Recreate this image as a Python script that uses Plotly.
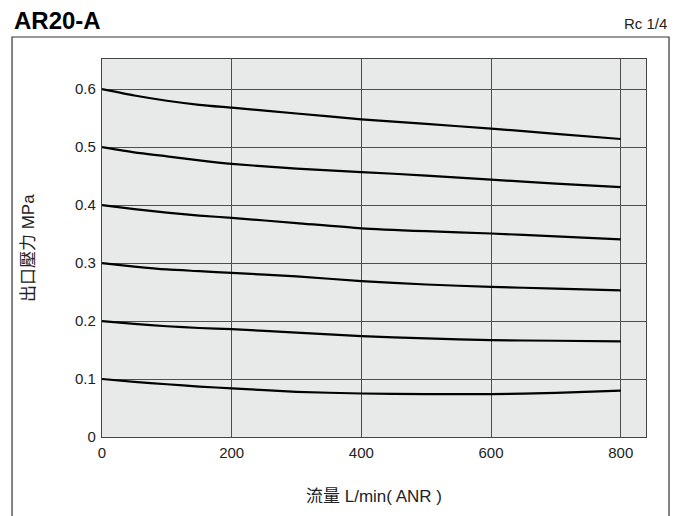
import plotly.graph_objects as go

flow = [0, 50, 100, 150, 200, 300, 400, 500, 600, 700, 800]
p60 = [0.600, 0.589, 0.580, 0.573, 0.568, 0.558, 0.548, 0.540, 0.532, 0.523, 0.514]
p50 = [0.500, 0.491, 0.484, 0.477, 0.471, 0.463, 0.457, 0.451, 0.444, 0.437, 0.431]
p40 = [0.400, 0.393, 0.387, 0.382, 0.378, 0.369, 0.360, 0.355, 0.351, 0.346, 0.341]
p30 = [0.300, 0.294, 0.289, 0.286, 0.283, 0.277, 0.269, 0.263, 0.259, 0.256, 0.253]
p20 = [0.200, 0.195, 0.191, 0.188, 0.186, 0.180, 0.174, 0.170, 0.167, 0.166, 0.165]
p10 = [0.100, 0.095, 0.091, 0.087, 0.084, 0.078, 0.075, 0.074, 0.074, 0.076, 0.080]
series = [p60, p50, p40, p30, p20, p10]

x_ticks = [0, 200, 400, 600, 800]
y_ticks = [0, 0.1, 0.2, 0.3, 0.4, 0.5, 0.6]
y_tick_text = ["0", "0.1", "0.2", "0.3", "0.4", "0.5", "0.6"]

FONT = "Arial, 'Liberation Sans', 'Noto Sans CJK TC', sans-serif"
NARROW = "'Liberation Sans Narrow', Arial, sans-serif"

fig = go.Figure()
for s in series:
    fig.add_trace(go.Scatter(x=flow, y=s, mode="lines",
                             line=dict(color="black", width=2.2, shape="spline", smoothing=0.6),
                             showlegend=False, hoverinfo="skip"))

grid_color = "#4d4d4d"
# page body has an 8px margin; figure sized to fit the window exactly
fig.update_layout(
    width=673, height=508,
    margin=dict(l=94, r=35, t=51, b=79),
    paper_bgcolor="white",
    plot_bgcolor="#e8e9e9",
    font=dict(family=FONT, size=15, color="#222222"),
    xaxis=dict(range=[0, 839], tickvals=x_ticks, ticktext=[str(v) for v in x_ticks],
               showgrid=True, gridcolor=grid_color, gridwidth=1,
               zeroline=False, showline=True, linecolor="#444444", linewidth=1.2, mirror=True,
               ticks="", tickfont=dict(size=15, color="#222222"), ticklabelstandoff=2),
    yaxis=dict(range=[0, 0.652], tickvals=y_ticks, ticktext=y_tick_text,
               showgrid=True, gridcolor=grid_color, gridwidth=1,
               zeroline=False, showline=True, linecolor="#444444", linewidth=1.2, mirror=True,
               ticks="", tickfont=dict(size=15, color="#222222"), ticklabelstandoff=2),
    shapes=[dict(type="rect", xref="paper", yref="paper",
                 x0=-0.1654, x1=1.0423, y0=-0.25, y1=1.0582,
                 line=dict(color="#333333", width=1.2), fillcolor="rgba(0,0,0,0)", layer="below")],
    annotations=[
        dict(text="<b>AR20-A</b>", xref="paper", yref="paper", x=-0.1654, y=1.103,
             xanchor="left", yanchor="middle", showarrow=False,
             font=dict(size=24, color="black", family=NARROW)),
        dict(text="Rc 1/4", xref="paper", yref="paper", x=1.0423, y=1.095,
             xanchor="right", yanchor="middle", showarrow=False,
             font=dict(size=15, color="#222222", family=FONT)),
        dict(text="流量 L/min( ANR )", xref="paper", yref="paper", x=0.5, y=-0.1587,
             xanchor="center", yanchor="middle", showarrow=False,
             font=dict(size=17, color="#222222", family=FONT)),
        dict(text="出口壓力 MPa", xref="paper", yref="paper", x=-0.136, y=0.5,
             xanchor="center", yanchor="middle", showarrow=False, textangle=-90,
             font=dict(size=17, color="#222222", family=FONT)),
    ],
)

fig.write_html("out.html")
